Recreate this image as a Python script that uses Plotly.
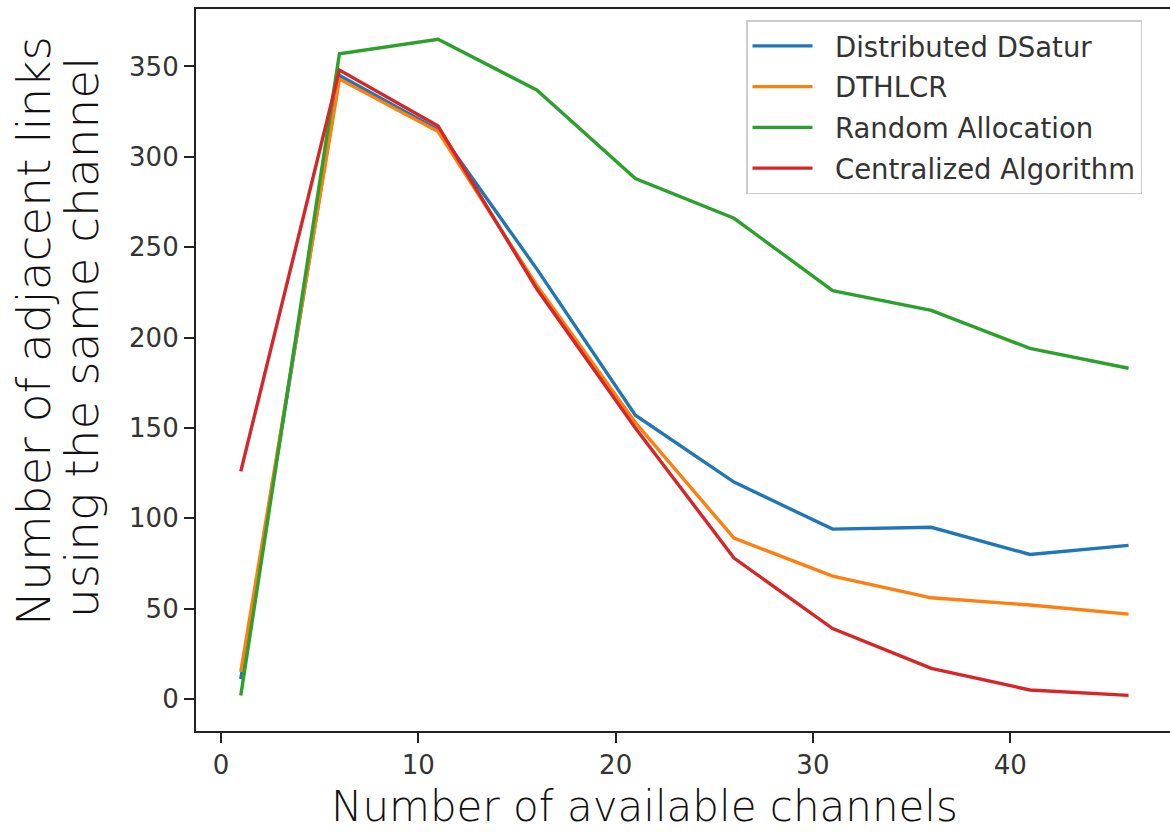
import plotly.graph_objects as go

channels = [1, 6, 11, 16, 21, 26, 31, 36, 41, 46]
dsatur = [11, 345, 315, 238, 157, 120, 94, 95, 80, 85]
dthlcr = [15, 343, 314, 229, 153, 89, 68, 56, 52, 47]
random_alloc = [2, 357, 365, 337, 288, 266, 226, 215, 194, 183]
centralized = [126, 348, 317, 227, 150, 78, 39, 17, 5, 2]

series_names = ["Distributed DSatur", "DTHLCR", "Random Allocation", "Centralized Algorithm"]
series_values = [dsatur, dthlcr, random_alloc, centralized]
series_colors = ["#1f77b4", "#ff7f0e", "#2ca02c", "#d62728"]

x_ticks = [0, 10, 20, 30, 40]
y_ticks = [0, 50, 100, 150, 200, 250, 300, 350]

fig = go.Figure()
for i, (name, vals, col) in enumerate(zip(series_names, series_values, series_colors)):
    fig.add_trace(go.Scatter(x=channels, y=vals, mode="lines",
                             name="\u00a0\u00a0" + name,
                             legendgroup=f"g{i}",
                             line=dict(color=col, width=3.4)))

W, H = 1170, 833
L, R, T, B = 196, 0, 9, 102
pw, ph = W - L - R, H - T - B

def px_x(p):
    return (p - L) / pw

def px_y(p):
    return (H - B - p) / ph

ytitle_font = dict(family="DejaVu Sans", size=47, color="#111111", weight=200)
xtitle_font = dict(family="DejaVu Sans", size=42, color="#111111", weight=200)
fig.update_layout(
    width=W, height=H,
    margin=dict(l=L, r=R, t=T, b=B, pad=0),
    paper_bgcolor="white", plot_bgcolor="white",
    showlegend=True,
    legend=dict(x=px_x(746), y=px_y(20), xanchor="left", yanchor="top",
                bgcolor="white", bordercolor="#cccccc", borderwidth=1.5,
                font=dict(family="DejaVu Sans", size=27.5, color="#333333"),
                tracegroupgap=2, itemwidth=60, traceorder="grouped"),
    xaxis=dict(range=[-1.27, 48.1], tickvals=x_ticks, ticks="outside", ticklen=10,
               tickwidth=1.5, tickcolor="#222222", showgrid=False, zeroline=False,
               showline=True, linecolor="#222222", linewidth=2.2, mirror=True,
               tickfont=dict(family="DejaVu Sans", size=26, color="#333333")),
    yaxis=dict(range=[-17.7, 381.8], tickvals=y_ticks, ticks="outside", ticklen=10,
               tickwidth=1.5, tickcolor="#222222", showgrid=False, zeroline=False,
               showline=True, linecolor="#222222", linewidth=2.2, mirror=False,
               tickfont=dict(family="DejaVu Sans", size=26, color="#333333")),
    annotations=[
        dict(text="Number of available channels", xref="paper", yref="paper",
             x=px_x(644), y=px_y(806), xanchor="center", yanchor="middle",
             showarrow=False, font=xtitle_font),
        dict(text="Number of adjacent links", xref="paper", yref="paper",
             x=px_x(33), y=px_y(331), xanchor="center", yanchor="middle",
             showarrow=False, textangle=-90, font=ytitle_font),
        dict(text="using the same channel", xref="paper", yref="paper",
             x=px_x(81), y=px_y(338), xanchor="center", yanchor="middle",
             showarrow=False, textangle=-90, font=ytitle_font),
    ],
)

fig.write_html("out.html", config={"displayModeBar": False},
               post_script="document.body.style.margin='0';document.body.style.padding='0';")
